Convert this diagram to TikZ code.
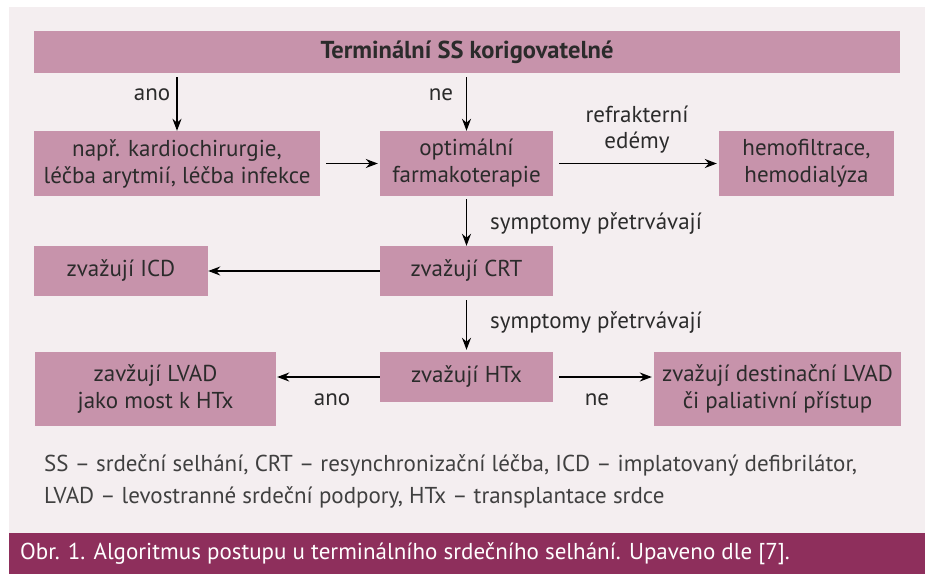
\documentclass[tikz,border=0pt]{standalone}
\usepackage{fontspec}
\setmainfont{PT Sans}
\usetikzlibrary{arrows.meta}
\definecolor{boxpink}{HTML}{C793AB}
\definecolor{panelbg}{HTML}{F4EEF0}
\definecolor{capbar}{HTML}{8E2F5C}
\definecolor{txtgray}{HTML}{2B2B2B}

\begin{document}
\begin{tikzpicture}[x=1pt, y=-1pt,
    box/.style={fill=boxpink, text=txtgray, align=center, inner sep=0pt,
                font=\fontsize{23}{27}\selectfont},
    arr/.style={-{Stealth[length=12pt, width=9pt]}, line width=1.3pt},
    lbl/.style={text=txtgray, align=center, inner sep=0pt,
                font=\fontsize{23}{26}\selectfont}]
    \useasboundingbox (0,0) rectangle (925,574);
    % background
    \fill[white] (0,0) rectangle (925,574);
    \fill[panelbg] (9,7) rectangle (925,533);
    \fill[capbar] (9,533) rectangle (925,574);

    % boxes
    \node[box, minimum width=866pt, minimum height=42pt,
          font=\bfseries\fontsize{24.5}{27}\selectfont] (title) at (467,52) {Terminální SS korigovatelné};
    \node[box, minimum width=286pt, minimum height=65pt] (surg) at (177,163.5) {např. kardiochirurgie,\\léčba arytmií, léčba infekce};
    \node[box, minimum width=173pt, minimum height=65pt] (pharm) at (466.5,163.5) {optimální\\farmakoterapie};
    \node[box, minimum width=175pt, minimum height=65pt] (hemo) at (806.5,163.5) {hemofiltrace,\\hemodialýza};
    \node[box, minimum width=174pt, minimum height=50pt] (icd) at (121,271) {zvažují ICD};
    \node[box, minimum width=173pt, minimum height=50pt] (crt) at (466.5,271) {zvažují CRT};
    \node[box, minimum width=173pt, minimum height=50pt] (htx) at (466.5,377) {zvažují HTx};
    \node[box, minimum width=241pt, minimum height=74pt] (lvad) at (155.5,389) {zavžují LVAD\\jako most k HTx};
    \node[box, minimum width=247pt, minimum height=74pt] (dest) at (777.5,389) {zvažují destinační LVAD\\či paliativní přístup};

    % labels
    \node[lbl] (ano1) at (152,95) {ano};
    \node[lbl] (ne1) at (441,95) {ne};
    \node[lbl] (refr) at (637,130) {refrakterní\\edémy};
    \node[lbl, anchor=west] (sym1) at (490,224) {symptomy přetrvávají};
    \node[lbl, anchor=west] (sym2) at (490,323) {symptomy přetrvávají};
    \node[lbl] (ano2) at (332,400) {ano};
    \node[lbl] (ne2) at (597,400) {ne};

    % arrows
    \draw[arr, shorten <=4pt] (title.south -| surg.north) -- (surg.north);
    \draw[arr, shorten <=4pt] (title.south -| pharm.north) -- (pharm.north);
    \draw[arr, shorten <=6pt, shorten >=2pt] (surg) -- (pharm);
    \draw[arr, shorten <=6pt, shorten >=2pt] (pharm) -- (hemo);
    \draw[arr, shorten <=3pt] (pharm) -- (crt);
    \draw[arr] (crt) -- (icd);
    \draw[arr, shorten <=4pt, shorten >=2pt] (crt) -- (htx);
    \draw[arr, shorten >=1pt] (htx.west) -- (htx.west -| lvad.east);
    \draw[arr, shorten <=6pt, shorten >=2pt] (htx.east) -- (htx.east -| dest.west);

    % legend and caption
    \node[lbl, anchor=north west, align=left, text=txtgray!90,
          font=\fontsize{23}{32}\selectfont] (legend) at (44,454)
          {SS – srdeční selhání, CRT – resynchronizační léčba, ICD – implatovaný defibrilátor,\\
           LVAD – levostranné srdeční podpory, HTx – transplantace srdce};
    \node[anchor=west, inner sep=0pt, text=white,
          font=\fontsize{23}{26}\selectfont] (caption) at (20,554)
          {Obr. 1. Algoritmus postupu u terminálního srdečního selhání. Upaveno dle [7].};
\end{tikzpicture}
\end{document}
